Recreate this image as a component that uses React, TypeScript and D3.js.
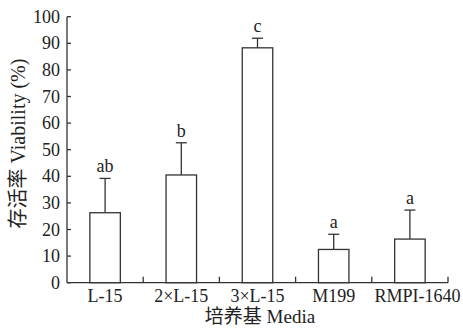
import React from "react";
import * as d3 from "d3";

const categories = ["L-15", "2×L-15", "3×L-15", "M199", "RMPI-1640"];
const means = [26.3, 40.5, 88.3, 12.5, 16.4];
const errors = [12.9, 12.1, 3.6, 5.7, 10.9];
const letters = ["ab", "b", "c", "a", "a"];
const yTicks = [0, 10, 20, 30, 40, 50, 60, 70, 80, 90, 100];

const W = 463, H = 331;
const left = 67, right = 448, top = 16.7, bottom = 282.7;
const stroke = "#333";
const font = "'Liberation Serif', 'Times New Roman', 'Noto Sans CJK SC', serif";

export default function App() {
  const x = d3.scaleBand<string>().domain(categories).range([left, right]).paddingInner(0).paddingOuter(0);
  const y = d3.scaleLinear().domain([0, 100]).range([bottom, top]);
  const bw = x.bandwidth() * 0.4;
  const capHalf = 5.5;
  const boundaries = categories.map((c) => (x(c) as number) + x.bandwidth());
  return (
    <svg width={W} height={H} style={{ position: "absolute", left: 0, top: 0, background: "#fff" }}>
      <g fill="none" stroke={stroke} strokeWidth={1.3}>
        <line x1={left} x2={left} y1={top} y2={bottom} />
        <line x1={left} x2={right} y1={bottom} y2={bottom} />
        {yTicks.map((t) => (
          <line key={t} x1={left} x2={left + 4} y1={y(t)} y2={y(t)} />
        ))}
        {boundaries.map((b, i) => (
          <line key={i} x1={b} x2={b} y1={bottom} y2={bottom - 6} />
        ))}
        {categories.map((c, i) => {
          const cx = (x(c) as number) + x.bandwidth() / 2;
          return (
            <g key={c}>
              <rect x={cx - bw / 2} y={y(means[i])} width={bw} height={bottom - y(means[i])} fill="#fff" />
              <line x1={cx} x2={cx} y1={y(means[i])} y2={y(means[i] + errors[i])} />
              <line x1={cx - capHalf} x2={cx + capHalf} y1={y(means[i] + errors[i])} y2={y(means[i] + errors[i])} />
            </g>
          );
        })}
      </g>
      <g fontFamily={font} fontSize={18} fill="#222">
        {yTicks.map((t) => (
          <text key={t} x={left - 7} y={y(t)} dy="0.34em" textAnchor="end">{t}</text>
        ))}
        {categories.map((c, i) => (
          <text key={c} x={(x(c) as number) + x.bandwidth() / 2} dx={i === categories.length - 1 ? 7.5 : 0} y={302} textAnchor="middle">{c}</text>
        ))}
        {categories.map((c, i) => (
          <text key={c + "l"} x={(x(c) as number) + x.bandwidth() / 2} y={y(means[i] + errors[i]) - 6} textAnchor="middle">{letters[i]}</text>
        ))}
        <text x={260} y={323} fontSize={19} textAnchor="middle">培养基 Media</text>
        <text transform={`translate(25, 143.5) rotate(-90)`} fontSize={20} textAnchor="middle">存活率 Viability (%)</text>
      </g>
    </svg>
  );
}
